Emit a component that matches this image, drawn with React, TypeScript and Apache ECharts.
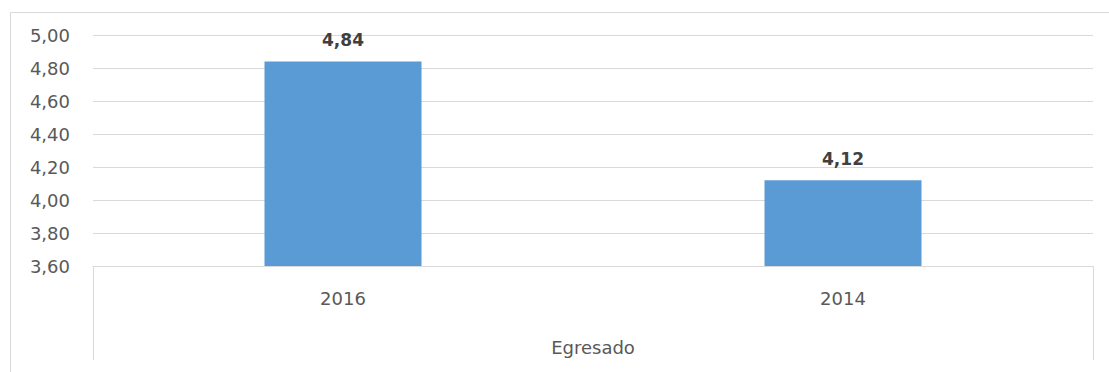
import React, { useEffect, useRef } from "react";
import * as echarts from "echarts";

const categories = ["2016", "2014"];
const values = [4.84, 4.12];
const groupLabel = ["Egresado"];
const yMin = 3.6;
const yMax = 5.0;
const yStep = 0.2;

const fmt = (v: number) => v.toFixed(2).replace(".", ",");

export default function App() {
  const ref = useRef<HTMLDivElement>(null);
  useEffect(() => {
    if (!ref.current) return;
    const chart = echarts.init(ref.current, undefined, { renderer: "svg" });
    const font = "DejaVu Sans";
    chart.setOption({
      animation: false,
      backgroundColor: "#ffffff",
      grid: { left: 93, right: 16, top: 35, bottom: 106 },
      graphic: [
        {
          type: "rect",
          shape: { x: 10.5, y: 12.5, width: 1300, height: 600 },
          style: { fill: "none", stroke: "#d9d9d9", lineWidth: 1 },
          silent: true,
          z: -1,
        },
      ],
      xAxis: [
        {
          type: "category",
          data: categories,
          position: "bottom",
          axisLine: { show: true, lineStyle: { color: "#d9d9d9", width: 1 } },
          axisTick: { show: false },
          axisLabel: { color: "#595959", fontFamily: font, fontSize: 18, margin: 23 },
        },
        {
          type: "category",
          data: groupLabel,
          position: "bottom",
          axisLine: { show: false },
          axisTick: { show: true, length: 94, alignWithLabel: false, lineStyle: { color: "#d9d9d9", width: 1 } },
          axisLabel: { color: "#595959", fontFamily: font, fontSize: 18, margin: 72 },
        },
      ],
      yAxis: {
        type: "value",
        min: yMin,
        max: yMax,
        interval: yStep,
        axisLine: { show: false },
        axisTick: { show: false },
        splitLine: { show: true, lineStyle: { color: "#d9d9d9", width: 1 } },
        axisLabel: {
          color: "#595959",
          fontFamily: font,
          fontSize: 18,
          margin: 23,
          formatter: (v: number) => fmt(v),
        },
      },
      series: [
        {
          type: "bar",
          xAxisIndex: 0,
          data: values,
          barWidth: 157,
          itemStyle: { color: "#5b9bd5" },
          label: {
            show: true,
            position: "top",
            distance: 13,
            color: "#404040",
            fontFamily: font,
            fontWeight: "bold",
            fontSize: 17,
            formatter: (p: any) => fmt(p.value),
          },
        },
      ],
    });
    return () => chart.dispose();
  }, []);
  return (
    <div
      ref={ref}
      style={{ position: "fixed", left: 0, top: 0, width: 1109, height: 372 }}
    />
  );
}
